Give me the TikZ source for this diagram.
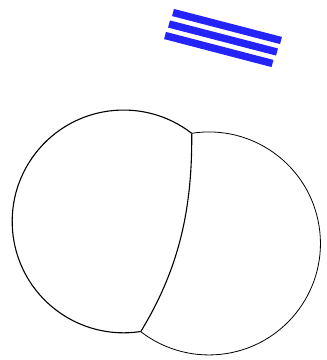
\documentclass[tikz,border=0pt]{standalone}
\definecolor{barblue}{RGB}{35,35,250}
\begin{document}
\begin{tikzpicture}[x=1pt,y=1pt,
  leftline/.style={draw=black,line width=1.1pt},
  rightline/.style={draw=black,line width=0.8pt},
  bluebar/.style={draw=barblue,line width=7.4pt}]
\useasboundingbox (0,0) rectangle (327,360);
% junction points
\coordinate (J1) at (191.7,226.7);
\coordinate (J2) at (140.7,28.3);
% left sphere outline
\draw[leftline] (J1) arc[start angle=52.3, end angle=278.8, radius=111.4];
% right sphere outline
\draw[rightline] (J1) arc[start angle=98.9, end angle=-127.7, radius=111.5];
% intersection curve
\draw[leftline] (J1) .. controls (192.5,146.7) and (177.1,88.1) .. (J2);
% blue bars
\coordinate (A1) at (173,347.5); \coordinate (B1) at (281,319.5);
\coordinate (A2) at (169,336);   \coordinate (B2) at (277,308);
\coordinate (A3) at (165,324.5); \coordinate (B3) at (272.5,296.5);
\draw[bluebar] (A1) -- (B1);
\draw[bluebar] (A2) -- (B2);
\draw[bluebar] (A3) -- (B3);
\end{tikzpicture}
\end{document}
